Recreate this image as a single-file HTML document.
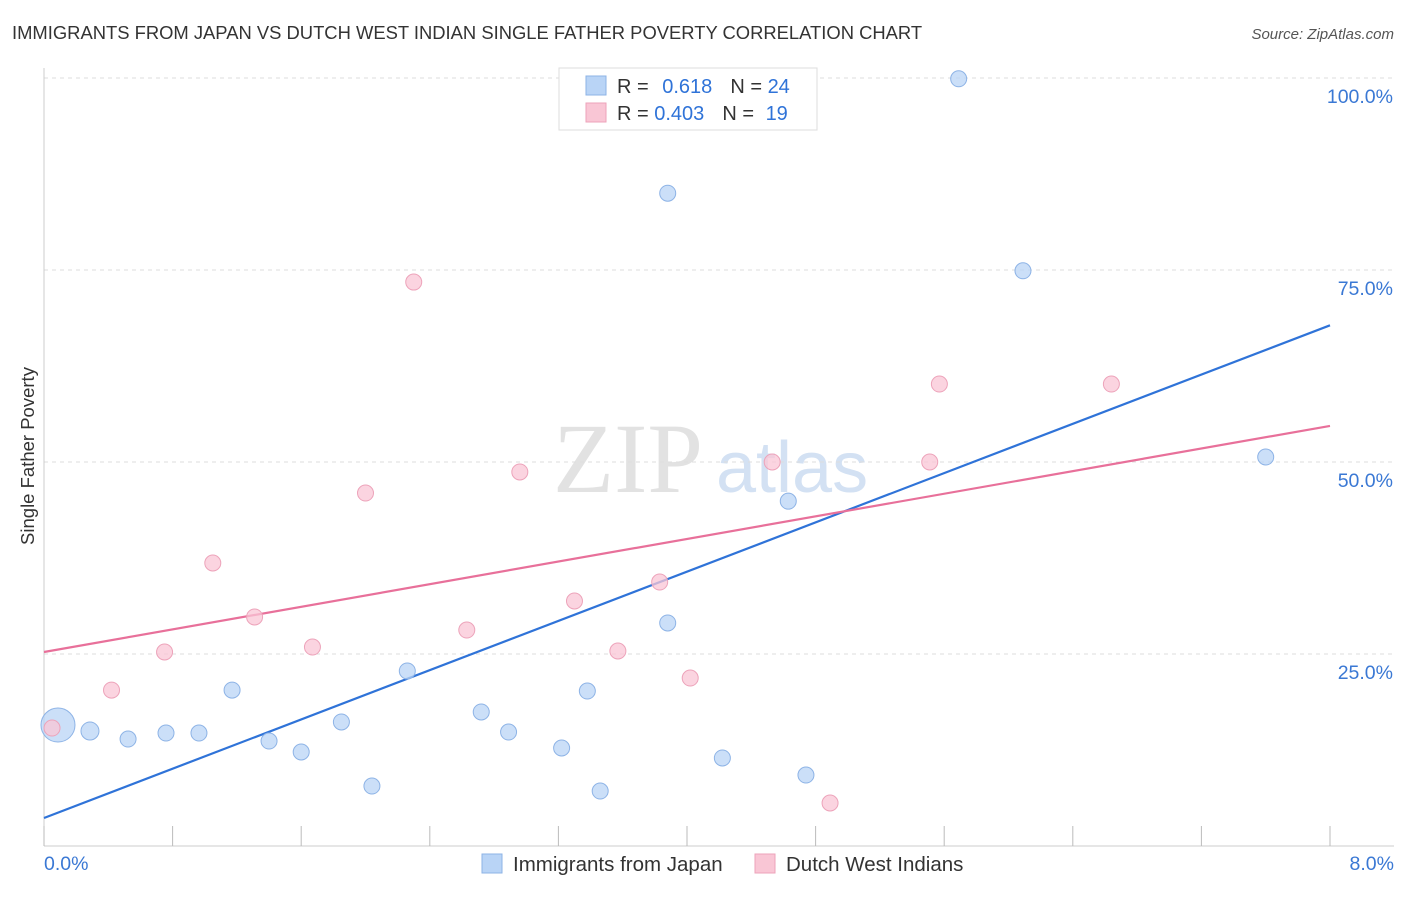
<!DOCTYPE html>
<html><head><meta charset="utf-8">
<style>
body{margin:0;background:#fff;font-family:"Liberation Sans",sans-serif;}
svg text{font-family:"Liberation Sans",sans-serif;}
svg text.serif{font-family:"Liberation Serif",serif;}
</style></head>
<body>
<svg id="chart" width="1406" height="892" viewBox="0 0 1406 892">
<text x="12" y="39" font-size="18.4" fill="#333">IMMIGRANTS FROM JAPAN VS DUTCH WEST INDIAN SINGLE FATHER POVERTY CORRELATION CHART</text>
<text x="1394" y="39" font-size="15" fill="#555" font-style="italic" text-anchor="end">Source: ZipAtlas.com</text>
<text x="34" y="456" font-size="18.5" fill="#333" text-anchor="middle" transform="rotate(-90 34 456)">Single Father Poverty</text>
<g>
<text class="serif" x="553" y="492" font-size="100" fill="#e2e2e2">ZIP</text>
<text x="716" y="492" font-size="72" fill="#d3e1f3">atlas</text>
</g>
<g id="grid"></g>
<g id="axes"></g>
<g id="lines"></g>
<g id="points"></g>
<g>
<rect x="559" y="68" width="258" height="62" fill="#fff" stroke="#ddd"/>
<rect x="586" y="76" width="20" height="19" fill="#b9d4f6" stroke="#8db3e6"/>
<rect x="586" y="103" width="20" height="19" fill="#f9c6d5" stroke="#eda3ba"/>
<text x="617" y="93" font-size="20" fill="#333">R = <tspan fill="#2f73d8" dx="8">0.618</tspan><tspan dx="18">N = </tspan><tspan fill="#2f73d8">24</tspan></text>
<text x="617" y="120" font-size="20" fill="#333">R = <tspan fill="#2f73d8">0.403</tspan><tspan dx="18">N = </tspan><tspan fill="#2f73d8" dx="6">19</tspan></text>
</g>
<g>
<rect x="482" y="854" width="20" height="19" fill="#b9d4f6" stroke="#8db3e6"/>
<text x="513" y="871" font-size="20.5" fill="#333">Immigrants from Japan</text>
<rect x="755" y="854" width="20" height="19" fill="#f9c6d5" stroke="#eda3ba"/>
<text x="786" y="871" font-size="20.5" fill="#333">Dutch West Indians</text>
</g>
</svg>
<script>
const japanX=[0.087,0.286,0.523,0.759,0.964,1.17,1.40,1.60,1.85,2.04,2.26,2.72,2.89,3.22,3.38,3.46,3.88,3.88,4.22,4.63,4.74,5.69,6.09,7.60];
const japanY=[15.75,14.97,13.93,14.71,14.71,20.3,13.67,12.24,16.15,7.81,22.79,17.45,14.84,12.76,20.18,7.16,29.04,85.0,11.46,44.9,9.24,99.9,74.9,50.65];
const japanR=[18,10,9,9,9,9,9,9,9,9,9,9,9,9,9,9,9,9,9,9,9,9,9,9];
const dutchX=[0.05,0.42,0.75,1.05,1.31,1.67,2.0,2.30,2.63,2.96,3.30,3.57,3.83,4.02,4.53,4.89,5.51,5.57,6.64];
const dutchY=[15.36,20.3,25.26,36.85,29.82,25.91,45.96,73.43,28.12,48.7,31.9,25.39,34.37,21.87,50.0,5.6,50.0,60.15,60.15];
const trendJapan=[3.65,67.8];
const trendDutch=[25.26,54.7];
const yTicks=[25,50,75,100];
const yTickLabels=["25.0%","50.0%","75.0%","100.0%"];
const xTicks=[0,0.8,1.6,2.4,3.2,4,4.8,5.6,6.4,7.2,8];

const NS="http://www.w3.org/2000/svg";
const X=v=>44+v/8*1286;
const Y=v=>846-v/25*192;
function mk(tag,attrs,parent){const e=document.createElementNS(NS,tag);for(const k in attrs)e.setAttribute(k,attrs[k]);document.getElementById(parent).appendChild(e);return e;}

yTicks.forEach((t,i)=>{
  const l=mk('line',{x1:44,x2:1394,y1:Y(t),y2:Y(t),stroke:'#ddd','stroke-dasharray':'4,4'},'grid');
  
  
  const tx=mk('text',{x:1393,y:Y(t)+25,'font-size':19.5,fill:'#3a78d4','text-anchor':'end'},'grid');
  tx.textContent=yTickLabels[i];
  
  
});
const ax=mk('line',{x1:44,x2:44,y1:68,y2:846,stroke:'#ccc'},'axes');


const bx=mk('line',{x1:44,x2:1394,y1:846,y2:846,stroke:'#ccc'},'axes');


xTicks.forEach(t=>{
  const l=mk('line',{x1:X(t),x2:X(t),y1:826,y2:846,stroke:'#bbb'},'axes');
  
  
});
[[0,"0.0%","start",44],[8,"8.0%","end",1394]].forEach(d=>{
  const t=mk('text',{x:d[3],y:870,'font-size':19.5,fill:'#3a78d4','text-anchor':d[2]},'axes');
  t.textContent=d[1];
  
  
});

const lj=mk('line',{x1:X(0),y1:Y(trendJapan[0]),x2:X(8),y2:Y(trendJapan[1]),stroke:'#2f73d8','stroke-width':2.2},'lines');


const ld=mk('line',{x1:X(0),y1:Y(trendDutch[0]),x2:X(8),y2:Y(trendDutch[1]),stroke:'#e8709a','stroke-width':2.2},'lines');



japanX.forEach((v,i)=>{
  const c=mk('circle',{cx:X(v),cy:Y(japanY[i]),r:japanR[i]-1,fill:'#b9d4f6','fill-opacity':0.75,stroke:'#8db3e6','stroke-width':1},'points');
  
  
});
dutchX.forEach((v,i)=>{
  const c=mk('circle',{cx:X(v),cy:Y(dutchY[i]),r:8,fill:'#f9c6d5','fill-opacity':0.75,stroke:'#eda3ba','stroke-width':1},'points');
  
  
});
</script>
</body></html>
